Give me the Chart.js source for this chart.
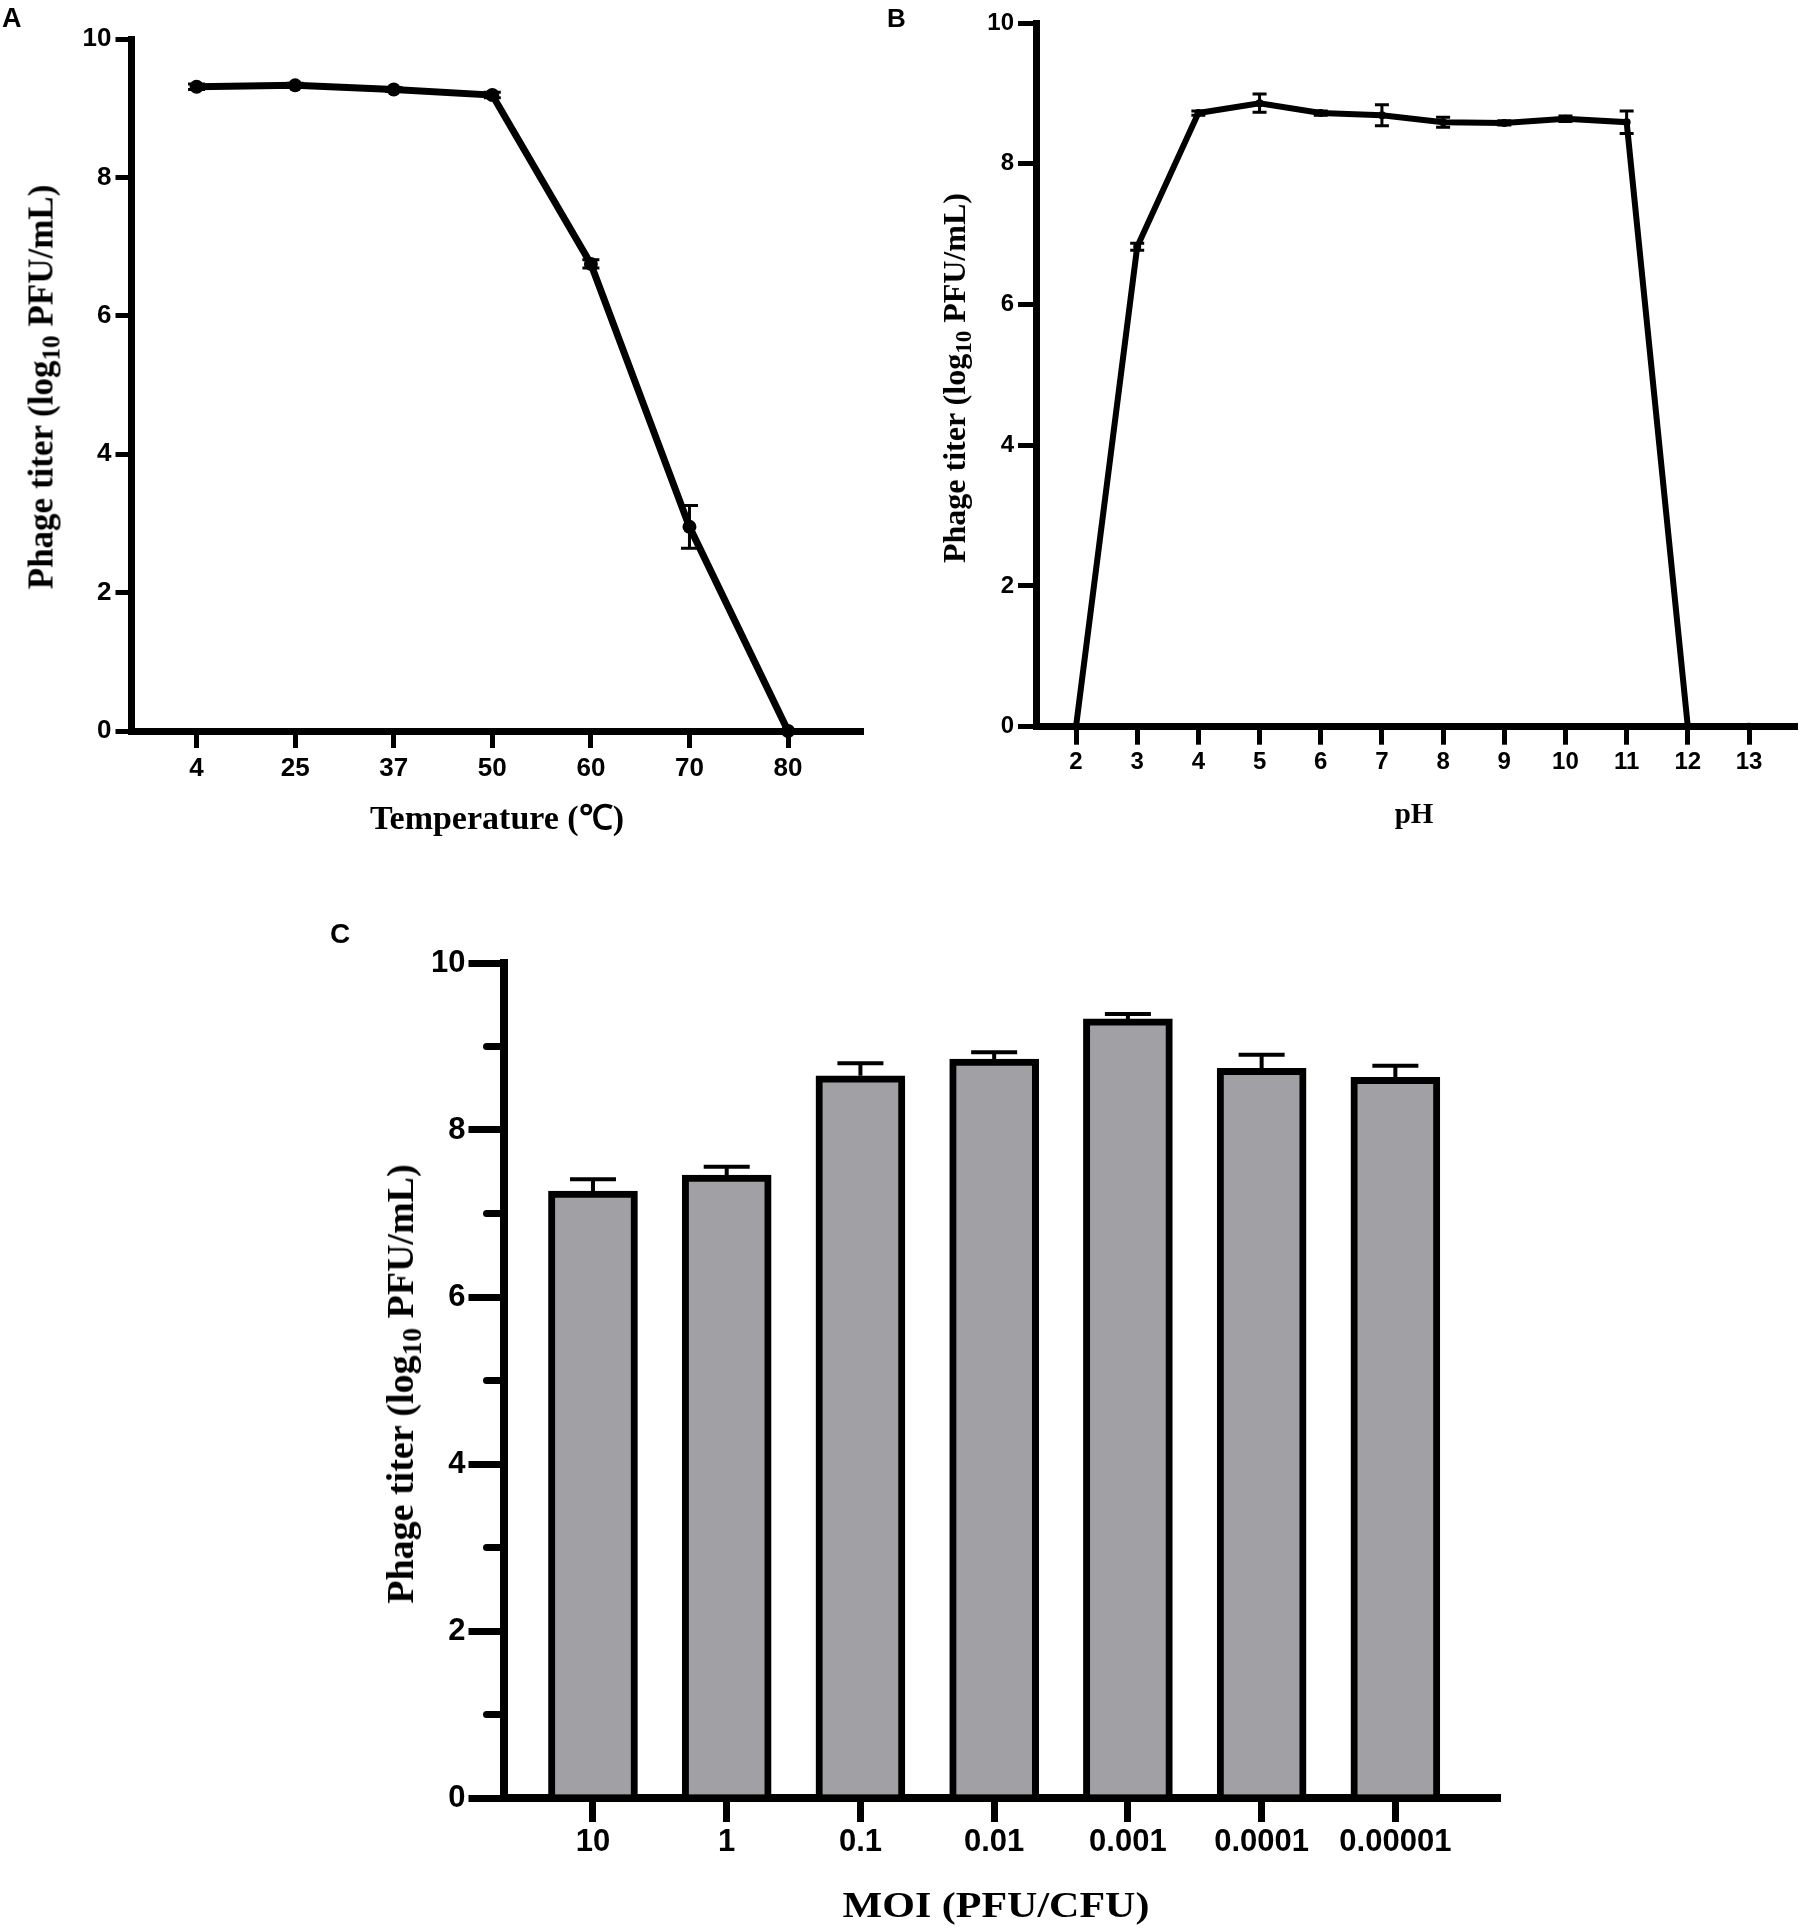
<!DOCTYPE html>
<html><head><meta charset="utf-8">
<script src="https://cdn.jsdelivr.net/npm/chart.js@4.4.1/dist/chart.umd.min.js"></script>
<style>
html,body{margin:0;padding:0;background:#fff;}
#wrap{position:relative;width:1800px;height:1929px;overflow:hidden;background:#fff;}
canvas{position:absolute;}
.lab{position:absolute;font-family:'Liberation Sans',Arial,sans-serif;font-weight:bold;line-height:1;white-space:nowrap;color:#000;}
.ttl{position:absolute;font-family:'Liberation Serif','Times New Roman',serif;font-weight:bold;line-height:1;white-space:nowrap;color:#000;}
.ttl sub{font-size:0.72em;vertical-align:-0.28em;line-height:0;}
.yt{transform:translate(-50%,-50%) rotate(-90deg);}
.xt{transform:translateX(-50%);}
</style></head>
<body><div id="wrap">
<canvas id="cA" width="900" height="850" style="left:0;top:0"></canvas>
<canvas id="cB" width="900" height="850" style="left:900px;top:0"></canvas>
<canvas id="cC" width="1300" height="1049" style="left:300px;top:880px"></canvas>

<div class="lab" style="left:2px;top:5px;font-size:27px">A</div>
<div class="lab" style="left:887px;top:5px;font-size:26px">B</div>
<div class="lab" style="left:330px;top:920px;font-size:28px">C</div>

<div class="ttl yt" style="left:41px;top:387px;font-size:35px">Phage titer (log<sub>10</sub> PFU/mL)</div>
<div class="ttl xt" style="left:497px;top:801px;font-size:34px">Temperature (℃)</div>

<div class="ttl yt" style="left:954px;top:378px;font-size:32px">Phage titer (log<sub>10</sub> PFU/mL)</div>
<div class="ttl xt" style="left:1414px;top:799px;font-size:29px">pH</div>

<div class="ttl yt" style="left:400px;top:1384px;font-size:38px">Phage titer (log<sub>10</sub> PFU/mL)</div>
<div class="ttl" style="left:996px;top:1888px;font-size:35px;transform:translateX(-50%) scaleX(1.2)">MOI (PFU/CFU)</div>
</div>
<script>
// ---- data ----
const tempLabels = ['4','25','37','50','60','70','80'];
const tempTiter  = [9.31, 9.33, 9.27, 9.19, 6.75, 2.95, 0];
const tempErr    = [0.04, 0.03, 0.03, 0.04, 0.06, 0.31, 0];

const phLabels = [2,3,4,5,6,7,8,9,10,11,12,13];
const phTiter  = [0, 6.82, 8.72, 8.86, 8.72, 8.69, 8.59, 8.58, 8.64, 8.59, 0, 0];
const phErr    = [0, 0.05, 0.03, 0.13, 0.03, 0.15, 0.07, 0.03, 0.04, 0.16, 0, 0];

const moiLabels = ['10','1','0.1','0.01','0.001','0.0001','0.00001'];
const moiTiter  = [7.27, 7.46, 8.65, 8.85, 9.33, 8.74, 8.63];
const moiErr    = [0.14, 0.10, 0.15, 0.08, 0.06, 0.16, 0.14];

// ---- helpers ----
Chart.defaults.font.family = "'Liberation Sans', Arial, sans-serif";
Chart.defaults.color = '#000';

function errorBars(errs, capW, lw, upOnly){
  return {id:'errbars', afterDatasetsDraw(chart){
    const ctx = chart.ctx, meta = chart.getDatasetMeta(0), ys = chart.scales.y;
    const data = chart.data.datasets[0].data;
    ctx.save(); ctx.strokeStyle = '#000'; ctx.lineWidth = lw; ctx.lineCap = 'butt';
    meta.data.forEach((el, i) => {
      const e = errs[i]; if (!e) return;
      const v = data[i].y, x = el.x;
      const yT = ys.getPixelForValue(v + e);
      const yB = upOnly ? ys.getPixelForValue(v) : ys.getPixelForValue(v - e);
      ctx.beginPath();
      ctx.moveTo(x, yT); ctx.lineTo(x, yB);
      ctx.moveTo(x - capW/2, yT); ctx.lineTo(x + capW/2, yT);
      if (!upOnly) { ctx.moveTo(x - capW/2, yB); ctx.lineTo(x + capW/2, yB); }
      ctx.stroke();
    });
    ctx.restore();
  }};
}

function minorTicks(len, w){
  return {id:'minor', afterDraw(chart){
    const ctx = chart.ctx, ys = chart.scales.y, left = chart.chartArea.left;
    ctx.save(); ctx.strokeStyle = '#000'; ctx.lineWidth = w; ctx.lineCap = 'round';
    for (let v = 1; v < 10; v += 2) {
      const y = ys.getPixelForValue(v);
      ctx.beginPath(); ctx.moveTo(left - len, y); ctx.lineTo(left, y); ctx.stroke();
    }
    ctx.restore();
  }};
}

function axisY(width, fontSize, tickLen, tickW, borderW, step, pad){
  return {
    type:'linear', min:0, max:10,
    afterFit(s){ s.width = width; },
    ticks:{ stepSize: step, padding: pad, color:'#000',
      font:{size:fontSize, weight:'bold'},
      callback:(v)=> (v % 2 === 0 ? String(v) : '') },
    grid:{ display:true, drawOnChartArea:false, drawTicks:true, tickLength:tickLen,
      tickWidth:tickW, lineWidth:tickW,
      tickColor:(c)=> (c.tick && c.tick.value % 2 === 0 ? '#000' : 'rgba(0,0,0,0)') },
    border:{ display:true, color:'#000', width:borderW }
  };
}

function axisX(height, min, max, tickVals, labelFn, fontSize, tickLen, tickW, borderW, pad){
  return {
    type:'linear', min:min, max:max, offset:false,
    afterFit(s){ s.height = height; },
    afterBuildTicks(s){ s.ticks = tickVals.map(v => ({value:v})); },
    ticks:{ padding: pad, color:'#000', autoSkip:false, maxRotation:0,
      font:{size:fontSize, weight:'bold'},
      callback:(v)=> labelFn(v) },
    grid:{ display:true, offset:false, drawOnChartArea:false, drawTicks:true, tickLength:tickLen,
      tickWidth:tickW, lineWidth:tickW, tickColor:'#000' },
    border:{ display:true, color:'#000', width:borderW }
  };
}

const baseOpts = { responsive:false, animation:false, devicePixelRatio:1,
  plugins:{ legend:{display:false}, tooltip:{enabled:false} } };

// ---- Panel A ----
new Chart(document.getElementById('cA'), {
  type:'line',
  data:{ datasets:[{
    data: tempTiter.map((v,i)=>({x:i, y:v})),
    borderColor:'#000', borderWidth:7, backgroundColor:'#000',
    pointRadius:7, pointBackgroundColor:'#000', pointBorderWidth:0,
    tension:0, clip:false, fill:false
  }]},
  options: Object.assign({}, baseOpts, {
    layout:{ padding:{left:0, top:39, right:39, bottom:0} },
    scales:{
      x: axisX(119, -0.66, 6.74, tempLabels.map((_,i)=>i), v => tempLabels[v], 26, 17, 5, 7, 5),
      y: axisY(131.5, 26, 16, 5, 7, 2, 4)
    }
  }),
  plugins:[errorBars(tempErr, 17, 3, false)]
});

// ---- Panel B ----
new Chart(document.getElementById('cB'), {
  type:'line',
  data:{ datasets:[{
    data: phTiter.map((v,i)=>({x:phLabels[i], y:v})),
    borderColor:'#000', borderWidth:6, backgroundColor:'#000',
    pointRadius:4, pointBackgroundColor:'#000', pointBorderWidth:0,
    tension:0, clip:false, fill:false
  }]},
  options: Object.assign({}, baseOpts, {
    layout:{ padding:{left:0, top:23, right:4.5, bottom:0} },
    scales:{
      x: axisX(123.3, 1.346, 13.76, phLabels, v => String(v), 24, 18, 5, 7, 3),
      y: axisY(136, 24, 18, 5, 7, 2, 4)
    }
  }),
  plugins:[errorBars(phErr, 14, 3, false)]
});

// ---- Panel C ----
new Chart(document.getElementById('cC'), {
  type:'bar',
  data:{ datasets:[{
    data: moiTiter.map((v,i)=>({x:i, y:v})),
    backgroundColor:'#a1a0a5', borderColor:'#000', borderWidth:7,
    borderSkipped:'start', barThickness:89
  }]},
  options: Object.assign({}, baseOpts, {
    layout:{ padding:{left:0, top:83, right:103, bottom:0} },
    scales:{
      x: axisX(131, -0.669, 6.76, moiLabels.map((_,i)=>i), v => moiLabels[v], 31, 24, 7, 8, 2),
      y: axisY(203.5, 31, 35, 7, 8, 1, 3)
    }
  }),
  plugins:[errorBars(moiErr, 46, 4, true), minorTicks(17, 7)]
});
</script>
</body></html>
